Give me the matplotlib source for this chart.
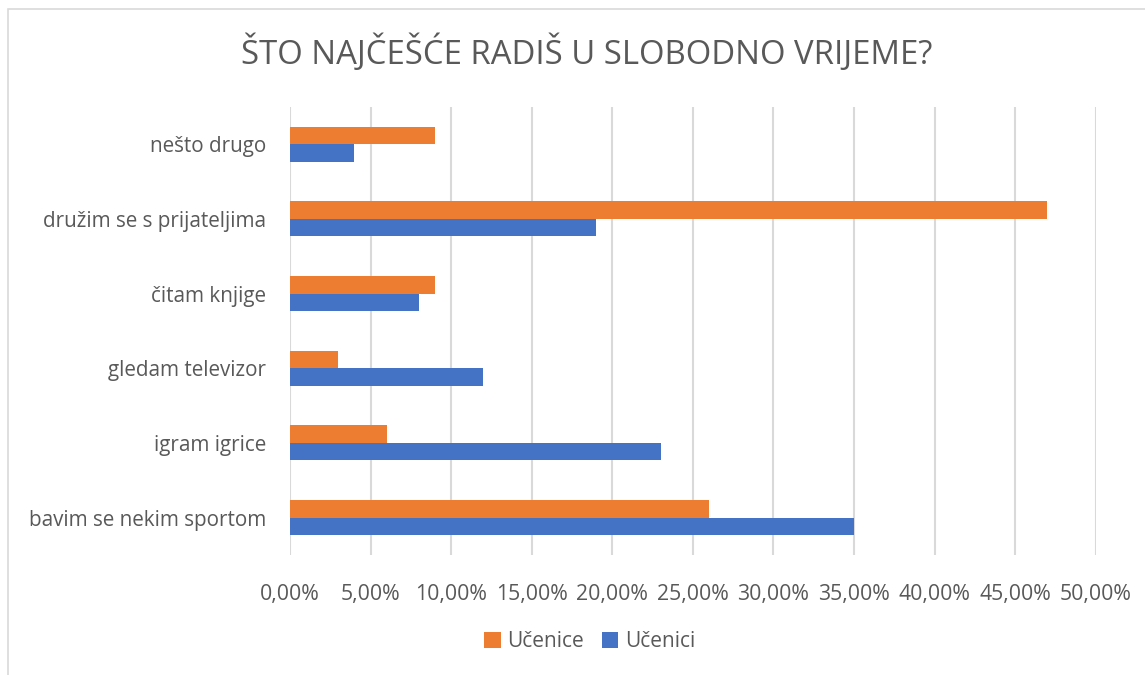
import matplotlib
matplotlib.use('Agg')
import matplotlib.pyplot as plt
from matplotlib.patches import Rectangle
import numpy as np

plt.rcParams['font.family'] = ['Open Sans', 'DejaVu Sans']

categories = ['bavim se nekim sportom', 'igram igrice', 'gledam televizor',
              'čitam knjige', 'družim se s prijateljima', 'nešto drugo']
ucenice = [26, 6, 3, 9, 47, 9]
ucenici = [35, 23, 12, 8, 19, 4]
ticks = [0, 5, 10, 15, 20, 25, 30, 35, 40, 45, 50]
tick_labels = ['0,00%', '5,00%', '10,00%', '15,00%', '20,00%', '25,00%',
               '30,00%', '35,00%', '40,00%', '45,00%', '50,00%']

orange = '#ed7d31'
blue = '#4472c4'
grey = '#595959'

fig = plt.figure(figsize=(11.45, 6.75), dpi=100)
ax = fig.add_axes([0.2533, 0.178, 0.7037, 0.6635])

y = np.arange(len(categories))
h = 0.234
ax.barh(y + h / 2, ucenice, height=h, color=orange, label='Učenice', zorder=3)
ax.barh(y - h / 2, ucenici, height=h, color=blue, label='Učenici', zorder=3)

ax.set_xlim(0, 50)
ax.set_ylim(-0.5, 5.5)
ax.set_xticks(ticks)
ax.set_xticklabels(tick_labels, fontsize=15.3, color=grey)
ax.set_yticks(y)
ax.set_yticklabels(categories, fontsize=14.9, color=grey)
ax.tick_params(axis='both', length=0)
ax.tick_params(axis='x', pad=21)
ax.tick_params(axis='y', pad=17)
ax.grid(axis='x', color='#d9d9d9', linewidth=1.5, zorder=0)
for s in ax.spines.values():
    s.set_visible(False)

fig.text(0.512, 0.921, 'ŠTO NAJČEŠĆE RADIŠ U SLOBODNO VRIJEME?', ha='center', va='center',
         fontsize=23.7, color=grey)

fig.legend(loc='center', bbox_to_anchor=(0.515, 0.049), ncol=2, frameon=False,
           fontsize=15, labelcolor=grey, handlelength=0.8, handleheight=0.8,
           handletextpad=0.3, columnspacing=0.85)

fig.patches.append(Rectangle((0.007, -0.1), 1.1, 1.087, transform=fig.transFigure,
                             fill=False, edgecolor='#d9d9d9', linewidth=1.2))

fig.savefig('out.png', dpi=100)
